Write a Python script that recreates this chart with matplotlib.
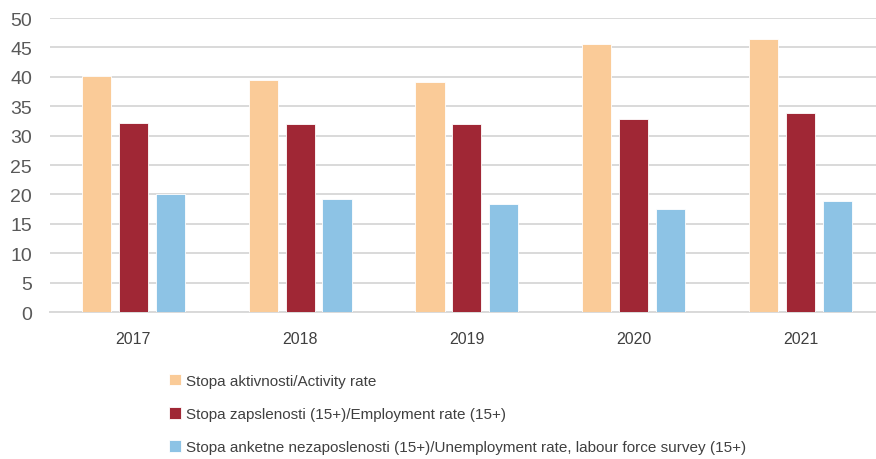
import numpy as np
import matplotlib
matplotlib.use("Agg")
import matplotlib.pyplot as plt

years = ["2017", "2018", "2019", "2020", "2021"]
activity = [40.1, 39.5, 39.1, 45.5, 46.5]
employment = [32.1, 31.9, 31.9, 32.8, 33.8]
unemployment = [20.0, 19.2, 18.4, 17.5, 18.9]
labels = ["Stopa aktivnosti/Activity rate",
          "Stopa zapslenosti (15+)/Employment rate (15+)",
          "Stopa anketne nezaposlenosti (15+)/Unemployment rate, labour force survey (15+)"]
colors = ["#FACB98", "#A02735", "#8DC3E5"]

plt.rcParams['font.family'] = ['Liberation Sans', 'DejaVu Sans']

fig = plt.figure(figsize=(8.76, 4.6), dpi=100)
ax = fig.add_axes([50/876, 147/460, 826/876, 294/460])

x = np.arange(len(years))
w = 0.175
off = 0.221
series = [activity, employment, unemployment]
handles = []
for i, (vals, c, lab) in enumerate(zip(series, colors, labels)):
    b = ax.bar(x + (i - 1) * off, vals, w, color=c, edgecolor='white',
               linewidth=0.6, label=lab, zorder=3)
    handles.append(b)

ax.set_xlim(-0.5, -0.5 + 826/166.75)
ax.set_ylim(0, 50)
ax.set_yticks(np.arange(0, 51, 5))
ax.set_xticks(x)
ax.set_xticklabels(years)
ax.yaxis.grid(True, color='#d9d9d9', linewidth=1.4, zorder=0)
for s in ['top', 'right', 'left']:
    ax.spines[s].set_visible(False)
ax.spines['bottom'].set_color('#d9d9d9')
ax.spines['bottom'].set_linewidth(1.4)
ax.tick_params(axis='y', length=0, pad=13, labelsize=14, labelcolor='#595959')
ax.tick_params(axis='x', length=0, pad=14, labelsize=11.5, labelcolor='#404040')

fig.legend(handles=handles, labels=labels, loc='upper left',
           bbox_to_anchor=(155/876, 1 - 361/460), frameon=False,
           fontsize=11, labelspacing=1.25, handlelength=0.8, handleheight=0.8,
           handletextpad=0.3, labelcolor='#404040')

fig.savefig("out.png", dpi=100)
